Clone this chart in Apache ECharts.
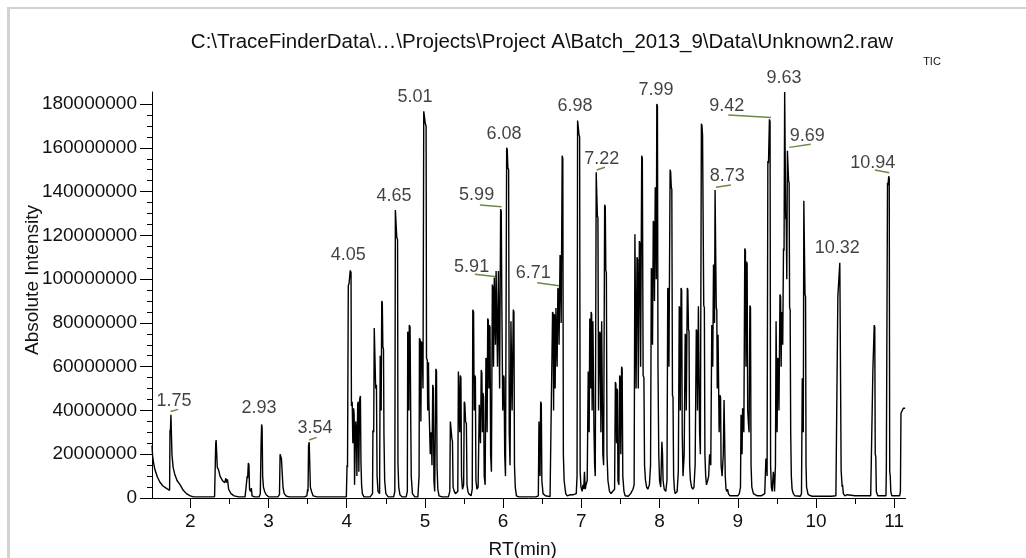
<!DOCTYPE html>
<html><head><meta charset="utf-8">
<script src="https://cdn.jsdelivr.net/npm/echarts@6/dist/echarts.min.js"></script>
<style>html,body{margin:0;padding:0;background:#fff}#c{width:1026px;height:558px}</style>
</head><body><div id="c"></div>
<script>
// ---- data ----
const chartTitle = 'C:\\TraceFinderData\\…\\Projects\\Project A\\Batch_2013_9\\Data\\Unknown2.raw';
const traceName = 'TIC';
const xTicks = [2, 3, 4, 5, 6, 7, 8, 9, 10, 11];
const xMinorTicks = [2.5, 3.5, 4.5, 5.5, 6.5, 7.5, 8.5, 9.5, 10.5];
const yTicks = [0, 20000000, 40000000, 60000000, 80000000, 100000000, 120000000, 140000000, 160000000, 180000000];
const yMinorTicks = [5e6,10e6,15e6,25e6,30e6,35e6,45e6,50e6,55e6,65e6,70e6,75e6,85e6,90e6,95e6,105e6,110e6,115e6,125e6,130e6,135e6,145e6,150e6,155e6,165e6,170e6,175e6];

// trace vertices: [retention time (min), intensity (millions)]
const tracePoints = [
[1.51,24],[1.515,24],[1.518,19],[1.53,16],[1.547,13],[1.58,9.5],[1.61,7.3],[1.65,5.5],[1.70,4.3],[1.735,3.5],
[1.74,31],[1.745,30],[1.752,38],[1.758,38],[1.765,20],[1.77,18],[1.78,14],[1.80,11],[1.83,8],[1.87,6],[1.91,3.5],[1.95,2],[2.0,1],[2.04,0.5],[2.31,0.6],
[2.325,25],[2.33,26.5],[2.338,26],[2.345,14],[2.36,13],[2.38,10],[2.41,8],[2.44,7],[2.455,9],[2.465,7],[2.475,8.5],[2.49,4],[2.52,2],[2.56,1],[2.62,0.5],
[2.70,0.5],[2.72,1],[2.727,10],[2.733,9],[2.742,16],[2.75,15],[2.757,4],[2.77,3],[2.78,4.5],[2.79,1],[2.82,0.5],
[2.88,0.5],[2.895,2],[2.905,25],[2.912,33.6],[2.918,32],[2.925,10],[2.935,5],[2.95,3],[2.97,1.5],[3.0,0.6],
[3.12,0.5],[3.14,1.5],[3.148,20],[3.155,20.3],[3.165,18],[3.175,17.5],[3.185,5],[3.2,2],[3.23,0.8],[3.27,0.5],
[3.46,0.5],[3.49,1],[3.5,4],[3.505,3],[3.512,24],[3.52,25.5],[3.528,25],[3.535,5],[3.55,3],[3.57,1],[3.62,0.5],[3.995,0.5],
[4.004,15],[4.01,14],[4.02,97],[4.03,98],[4.045,104],[4.055,103],[4.06,42],[4.07,44],[4.078,25],[4.088,41],[4.095,38],[4.10,6],[4.115,35],[4.125,30],[4.13,10],[4.14,43],[4.148,44],[4.155,12],[4.165,45],[4.175,46.6],[4.182,16],[4.19,6],[4.20,2],[4.22,0.5],
[4.30,0.5],[4.33,2],[4.335,31],[4.345,30],[4.352,77.7],[4.362,77],[4.37,50],[4.38,51.7],[4.388,10],[4.40,3],[4.42,2],[4.428,65],[4.435,64],[4.44,40],[4.448,90],[4.455,89],[4.462,69],[4.47,68],[4.476,29],[4.485,8],[4.50,2],[4.53,0.5],
[4.60,0.5],[4.615,3],[4.622,131.6],[4.632,131],[4.64,119],[4.65,118],[4.655,16],[4.665,5],[4.68,1.5],[4.71,0.5],
[4.76,0.5],[4.775,3],[4.78,76],[4.79,75],[4.795,40],[4.80,79],[4.81,78],[4.818,38],[4.825,10],[4.84,2],[4.87,0.5],
[4.91,0.5],[4.925,10],[4.93,73],[4.94,72],[4.948,35],[4.955,71.5],[4.965,70],[4.975,50],[4.985,176.7],[4.995,176],[5.005,171],[5.015,170],[5.02,64],[5.03,63],[5.035,40],[5.045,62],[5.05,45],[5.06,45.5],[5.068,20],[5.08,30],[5.09,15],[5.10,51.7],[5.108,50],[5.115,8],[5.125,3],[5.14,59],[5.148,58],[5.155,14],[5.165,4],[5.18,1],[5.22,0.5],
[5.30,0.5],[5.318,3],[5.325,34.9],[5.335,34],[5.345,27],[5.352,26],[5.36,5],[5.375,3],[5.39,2],[5.42,3],[5.428,57.8],[5.438,57],[5.445,30],[5.452,56],[5.46,55],[5.468,10],[5.48,4],[5.495,6],[5.503,44],[5.51,43],[5.52,35],[5.53,34],[5.538,6],[5.55,3],[5.56,2],
[5.59,1],[5.605,4],[5.612,86],[5.622,85],[5.63,40],[5.638,56],[5.645,55],[5.652,8],[5.665,4],[5.68,5],[5.695,42.6],[5.702,42],[5.71,25],[5.72,58.5],[5.728,57],[5.735,30],[5.742,48],[5.75,46],[5.758,10],[5.77,6],[5.78,64],[5.787,63],[5.795,30],[5.803,82],[5.81,81],[5.818,50],[5.825,79],[5.832,78],[5.84,20],[5.85,12],[5.862,97.5],[5.87,96],[5.877,60],[5.887,100.6],[5.895,100],[5.902,70],[5.91,103.7],[5.92,103],[5.928,60],[5.94,103.7],[5.948,103],[5.955,50],[5.968,132],[5.976,131],[5.983,90.7],[5.99,90],[5.995,40],[6.005,56],[6.012,55],[6.02,20],[6.03,10],[6.045,160],[6.053,159],[6.06,151],[6.07,150],[6.078,30],[6.088,15],[6.10,80.7],[6.108,80],[6.115,40],[6.13,86],[6.138,85],[6.145,15],[6.155,5],[6.17,1],[6.2,0.5],
[6.42,0.5],[6.45,1],[6.458,34.9],[6.465,34],[6.472,10],[6.48,44],[6.488,43],[6.495,8],[6.51,2],[6.54,1],[6.6,0.6],[6.625,1.5],[6.632,85],[6.64,84],[6.645,40],[6.652,84],[6.66,83],[6.665,50],[6.675,86.8],[6.683,86],[6.69,60],[6.7,96],[6.708,95],[6.715,70],[6.728,111],[6.735,110],[6.742,80],[6.755,156.4],[6.763,155],[6.77,20],[6.78,8],[6.8,2],[6.82,1],
[6.84,0.8],[6.86,1.5],[6.88,2],[6.9,1.5],[6.935,2],[6.945,10],[6.952,172.5],[6.962,172],[6.97,166],[6.978,165],[6.985,12],[6.995,5],[7.01,3],[7.02,6],[7.03,4],[7.04,12],[7.05,4],[7.06,6],[7.075,8],[7.088,57.8],[7.095,57],[7.1,30],[7.108,82],[7.115,81],[7.12,50],[7.125,85],[7.132,84],[7.138,40],[7.148,80.7],[7.155,80],[7.162,30],[7.17,15],[7.178,10],[7.19,148.8],[7.198,148],[7.205,129],[7.212,128],[7.22,40],[7.235,76],[7.242,75],[7.25,30],[7.26,80.7],[7.268,80],[7.275,20],[7.285,15],[7.298,134],[7.306,133],[7.313,104],[7.32,103],[7.328,20],[7.34,8],[7.36,3],[7.38,2],[7.4,3],[7.425,4],[7.435,53],[7.442,52],[7.45,25],[7.455,50],[7.462,49],[7.468,8],[7.48,6],[7.49,56],[7.497,55],[7.505,20],[7.515,60],[7.522,59],[7.53,10],[7.545,3],[7.56,1],
[7.6,0.8],[7.63,2],[7.66,4],[7.675,6],[7.685,120.5],[7.692,120],[7.7,50],[7.712,110],[7.72,109],[7.728,50],[7.742,117.4],[7.75,116],[7.758,60],[7.772,156.4],[7.78,155],[7.79,56],[7.8,55],[7.808,15],[7.82,8],[7.835,5],[7.85,4],[7.87,6],[7.885,15],[7.895,105],[7.902,104],[7.91,70],[7.92,126.6],[7.928,125],[7.935,90],[7.945,142],[7.952,141],[7.958,100],[7.965,180],[7.973,179],[7.98,60],[7.99,20],[8.0,8],[8.015,5],[8.03,25.7],[8.038,20],[8.045,8],[8.06,4],[8.08,3],[8.095,8],[8.105,96],[8.112,95],[8.12,60],[8.135,150],[8.142,149],[8.15,142],[8.157,141],[8.165,47],[8.172,46],[8.18,10],[8.19,4],[8.2,2],
[8.225,3],[8.24,12],[8.252,87.6],[8.26,86],[8.265,40],[8.275,96],[8.283,95],[8.29,30],[8.3,10],[8.315,20],[8.328,75],[8.335,74],[8.342,40],[8.355,96],[8.362,95],[8.37,77],[8.377,76],[8.385,15],[8.395,8],[8.41,5],[8.425,4],[8.44,5],[8.455,15],[8.47,77],[8.478,76],[8.485,40],[8.497,87.6],[8.505,87],[8.512,30],[8.522,20],[8.535,171],[8.543,170],[8.55,165.6],[8.557,165],[8.565,88],[8.573,87],[8.58,20],[8.59,10],[8.6,6],[8.615,8],[8.628,10],[8.64,20],[8.655,15],[8.668,79],[8.675,78],[8.68,60],[8.69,106.7],[8.697,105],[8.703,80],[8.71,140.7],[8.718,140],[8.725,87],[8.732,86],[8.738,50],[8.748,74.6],[8.755,74],[8.762,30],[8.772,47],[8.78,46],[8.787,15],[8.8,10],[8.815,20],[8.825,44.8],[8.832,44],[8.84,10],[8.85,4],[8.862,3],[8.87,4],[8.88,2],[8.9,1],
[9.0,1],[9.02,2],[9.035,5],[9.042,38],[9.05,37],[9.055,20],[9.062,41],[9.07,40],[9.078,30],[9.09,114],[9.098,113],[9.105,60],[9.112,108],[9.12,107],[9.127,40],[9.135,35],[9.145,30],[9.155,88],[9.163,87],[9.17,15],[9.18,5],[9.2,2],[9.25,1],[9.3,1],[9.345,2],[9.36,18],[9.368,17],[9.375,10],[9.385,154],[9.393,153],[9.405,173],[9.413,172],[9.42,15],[9.43,5],[9.44,3],[9.455,12],[9.462,10],[9.47,3],[9.482,15],[9.49,80.7],[9.497,80],[9.503,30],[9.512,64],[9.52,63],[9.527,40],[9.54,93],[9.548,92],[9.555,60],[9.562,85],[9.568,84],[9.575,70],[9.585,114],[9.592,113],[9.6,185.5],[9.607,185],[9.613,128],[9.62,127],[9.627,100],[9.635,158.7],[9.642,158],[9.65,145],[9.657,144],[9.663,87],[9.67,86],[9.677,30],[9.685,10],[9.695,4],[9.71,2],[9.73,1],[9.8,0.8],[9.815,2],[9.825,54.7],[9.832,54],[9.838,30],[9.845,135.8],[9.852,135],[9.86,93],[9.867,92],[9.873,15],[9.88,5],[9.9,1.5],[9.95,0.8],
[10.0,0.8],[10.2,0.8],[10.255,1],[10.27,1.5],[10.28,92],[10.29,92],[10.305,107.5],[10.315,107],[10.322,12.7],[10.33,12],[10.335,5],[10.34,6],[10.35,2],[10.37,1],[10.4,1.5],[10.41,0.8],[10.5,1],[10.7,1],
[10.72,1.5],[10.728,58.6],[10.735,58],[10.745,79],[10.752,78],[10.758,20],[10.765,19],[10.772,3],[10.79,1],[10.895,1],[10.9,12.7],[10.908,12],[10.915,144],[10.922,143],[10.93,147],[10.937,146],[10.943,12],[10.95,10],[10.957,3],[10.97,1],
[11.07,1],[11.08,3],[11.087,38.7],[11.11,39],[11.117,41],[11.14,41]
];

// peak annotations: label text, anchor rt, anchor intensity (millions)
const peakLabels = ['1.75','2.93','3.54','4.05','4.65','5.01','5.91','5.99','6.08','6.71','6.98','7.22','7.99','8.73','9.42','9.63','9.69','10.32','10.94'];
const labelRT =    [1.79, 2.877, 3.593, 4.019, 4.604, 4.872, 5.597, 5.661, 6.01, 6.385, 6.918, 7.26, 7.954, 8.866, 8.858, 9.591, 9.889, 10.272, 10.725];
const labelInt =   [44.3, 41.1, 31.8, 111, 138, 183, 105.7, 138.4, 166.3, 102.7, 179.1, 154.9, 186.4, 147.1, 179.1, 191.8, 165.4, 114.1, 153.2];
// leader lines under labels: [rt1, int1, rt2, int2] (millions)
const leaderLines = [
 [1.748,39.5,1.845,40.5],[3.52,26.5,3.615,27.7],[5.639,102.2,5.917,101.1],[5.703,133.9,5.98,133.1],
 [6.436,98.4,6.717,97],[7.196,149.9,7.302,151.1],[8.721,142,8.913,143],[8.879,175,9.425,173.9],
 [9.659,160.2,9.932,161.6],[10.754,149.9,10.937,148.6]
];

// ---- chart ----
const FONT = "'Liberation Sans', Arial, sans-serif";
const M = 1e6;
const chart = echarts.init(document.getElementById('c'));
const baseAxis = {type:'value', splitLine:{show:false}};
chart.setOption({
  animation:false,
  backgroundColor:'#ffffff',
  grid:{left:152, right:120.5, top:92, bottom:60, containLabel:false, outerBoundsMode:'none'},
  graphic:[
    {type:'rect', silent:true, shape:{x:7,y:7,width:3,height:551}, style:{fill:'#d6d2cb'}},
    {type:'rect', silent:true, shape:{x:7,y:7,width:1019,height:2}, style:{fill:'#d6d2cb'}},
    {type:'text', silent:true, x:542, y:42, style:{text:chartTitle, fontSize:20.5, fontFamily:FONT, fill:'#111', align:'center', verticalAlign:'middle'}},
    {type:'text', silent:true, x:932, y:62, style:{text:traceName, fontSize:11, fontFamily:FONT, fill:'#111', align:'center', verticalAlign:'middle'}}
  ],
  xAxis:[
    Object.assign({}, baseAxis, {min:1.51, max:11.145,
      axisLine:{show:true, onZero:false, lineStyle:{color:'#000', width:1}},
      axisTick:{show:true, length:10, customValues:xTicks, lineStyle:{color:'#000'}},
      axisLabel:{show:true, customValues:xTicks, formatter:v=>String(v), color:'#111', fontSize:19, fontFamily:FONT, margin:14},
      name:'RT(min)', nameLocation:'middle', nameGap:42, nameMoveOverlap:false, nameTextStyle:{color:'#111', fontSize:19, fontFamily:FONT, padding:[0,12,0,0]}}),
    Object.assign({}, baseAxis, {min:1.51, max:11.145, position:'bottom',
      axisLine:{show:false, onZero:false},
      axisTick:{show:true, length:6, customValues:xMinorTicks, lineStyle:{color:'#000'}},
      axisLabel:{show:false}})
  ],
  yAxis:[
    Object.assign({}, baseAxis, {min:0, max:185.5*M,
      axisLine:{show:true, onZero:false, lineStyle:{color:'#000', width:1}},
      axisTick:{show:true, length:12, customValues:yTicks, lineStyle:{color:'#000'}},
      axisLabel:{show:true, customValues:yTicks, formatter:v=>String(v), color:'#111', fontSize:19, fontFamily:FONT, margin:15},
      name:'Absolute Intensity', nameLocation:'middle', nameGap:110, nameMoveOverlap:false, nameTextStyle:{color:'#111', fontSize:19, fontFamily:FONT, padding:[0,0,0,30]}}),
    Object.assign({}, baseAxis, {min:0, max:185.5*M, position:'left',
      axisLine:{show:false, onZero:false},
      axisTick:{show:true, length:5, customValues:yMinorTicks, lineStyle:{color:'#000'}},
      axisLabel:{show:false}})
  ],
  series:[
    {type:'line', xAxisIndex:0, yAxisIndex:0, silent:true, clip:false, symbol:'none', sampling:null,
     lineStyle:{color:'#000', width:1.4}, data: tracePoints.map(p=>[p[0], p[1]*M])},
    {type:'custom', xAxisIndex:0, yAxisIndex:0, silent:true, clip:false,
     data: leaderLines.map(l=>[l[0], l[1]*M, l[2], l[3]*M]),
     encode:{x:[0,2], y:[1,3]},
     renderItem:(params, api)=>{
       const p1 = api.coord([api.value(0), api.value(1)]);
       const p2 = api.coord([api.value(2), api.value(3)]);
       return {type:'line', shape:{x1:p1[0], y1:p1[1], x2:p2[0], y2:p2[1]}, style:{stroke:'#6b8a45', lineWidth:1.5}};
     }},
    {type:'scatter', xAxisIndex:0, yAxisIndex:0, silent:true, clip:false, symbolSize:0,
     data: peakLabels.map((t,i)=>({name:t, value:[labelRT[i], labelInt[i]*M]})),
     label:{show:true, position:'inside', formatter:p=>p.name, color:'#111', fontSize:18, fontFamily:FONT, align:'center', verticalAlign:'middle'}}
  ]
});
</script></body></html>
